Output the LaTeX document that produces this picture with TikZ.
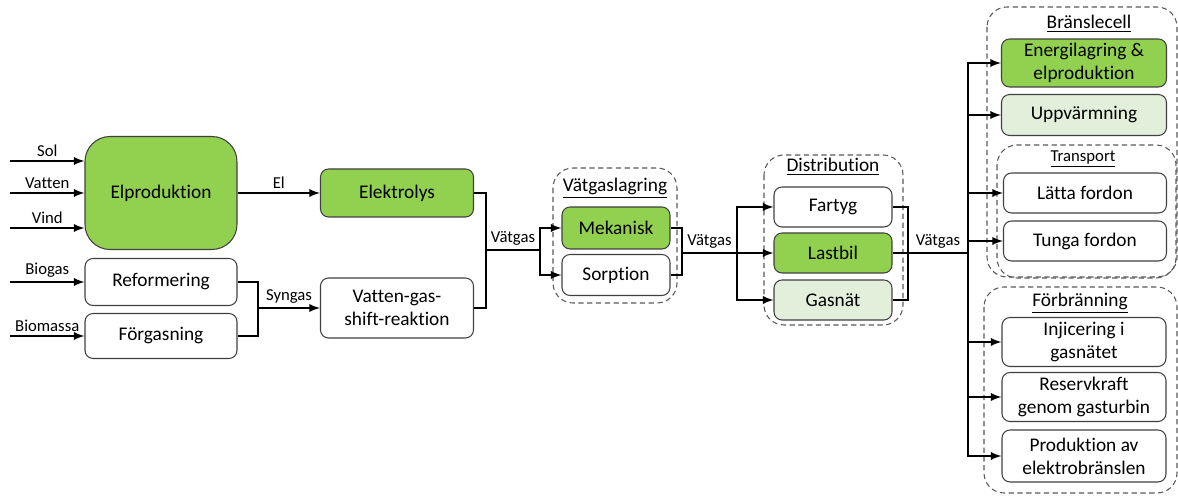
\documentclass[tikz,border=0pt]{standalone}
\usepackage{fontspec}
\setmainfont{Carlito}[Ligatures=NoCommon]
\definecolor{elgreen}{HTML}{92D050}
\definecolor{ltgreen}{HTML}{E2EFDA}
\begin{document}
\begin{tikzpicture}[x=0.02cm, y=-0.02cm,
    box/.style={draw=black!75, line width=0.6pt, rounded corners=0.16cm, align=center, inner sep=1pt, font=\fontsize{11}{13}\selectfont},
    grn/.style={box, fill=elgreen},
    lgrn/.style={box, fill=ltgreen},
    grp/.style={draw=black!65, line width=0.6pt, dash pattern=on 3pt off 2pt, rounded corners=0.4cm},
    conn/.style={line width=1.1pt},
    arr/.style={conn, ->, >=latex},
    lbl/.style={font=\fontsize{9.5}{11}\selectfont, above, inner sep=2pt},
    ttl/.style={font=\fontsize{11}{13}\selectfont},
]
\useasboundingbox (0,0) rectangle (1178,502);

% dashed groups
\draw[grp] (553,168) rectangle (677,303);
\draw[grp] (764,155) rectangle (903,325);
\draw[grp] (987,7) rectangle (1177,277);
\draw[grp] (997,145) rectangle (1176,278);
\draw[grp] (984,287) rectangle (1177,493);

\node[ttl] (lagring) at (615,188) {\underline{Vätgaslagring}};
\node[ttl] (distr) at (833,167) {\underline{Distribution}};
\node[ttl] (bransle) at (1089,24) {\underline{Bränslecell}};
\node[font=\fontsize{9.5}{11}\selectfont] (transp) at (1083,159) {\underline{Transport}};
\node[ttl] (forbr) at (1080,303) {\underline{Förbränning}};

% production
\node[grn, rounded corners=0.5cm, minimum width=3.04cm, minimum height=2.26cm] (elprod) at (161,193) {Elproduktion};
\node[box, minimum width=3.04cm, minimum height=0.94cm] (reform) at (161,282) {Reformering};
\node[box, minimum width=3.04cm, minimum height=0.9cm] (forgas) at (161,336) {Förgasning};
\node[grn, minimum width=3.06cm, minimum height=0.96cm] (elektro) at (397,193) {Elektrolys};
\node[box, minimum width=3.06cm, minimum height=1.2cm] (wgs) at (397,308) {Vatten-gas-\\shift-reaktion};

% storage and distribution
\node[grn, minimum width=2.16cm, minimum height=0.84cm] (mek) at (616,228) {Mekanisk};
\node[box, minimum width=2.16cm, minimum height=0.82cm] (sorp) at (616,275) {Sorption};
\node[box, minimum width=2.36cm, minimum height=0.8cm] (fartyg) at (833,207) {Fartyg};
\node[grn, minimum width=2.36cm, minimum height=0.8cm] (lastbil) at (833,253) {Lastbil};
\node[lgrn, minimum width=2.36cm, minimum height=0.8cm] (gasnat) at (833,300) {Gasnät};

% use
\node[grn, minimum width=3.3cm, minimum height=0.96cm] (energi) at (1084,63) {Energilagring \&\\elproduktion};
\node[lgrn, minimum width=3.3cm, minimum height=0.82cm] (uppv) at (1084,115) {Uppvärmning};
\node[box, minimum width=3.26cm, minimum height=0.8cm] (latta) at (1085,193) {Lätta fordon};
\node[box, minimum width=3.26cm, minimum height=0.8cm] (tunga) at (1085,241) {Tunga fordon};
\node[box, minimum width=3.28cm, minimum height=0.98cm] (inj) at (1084,342) {Injicering i\\gasnätet};
\node[box, minimum width=3.28cm, minimum height=0.98cm] (reserv) at (1084,397) {Reservkraft\\genom gasturbin};
\node[box, minimum width=3.28cm, minimum height=1.04cm] (prod) at (1084,456) {Produktion av\\elektrobränslen};

% inputs
\coordinate (sol) at (10,161);
\coordinate (vatten) at (10,193);
\coordinate (vind) at (10,228);
\coordinate (biogas) at (10,282);
\coordinate (biomassa) at (10,336);
\draw[arr] (sol) -- node[lbl] {Sol} (sol -| elprod.west);
\draw[arr] (vatten) -- node[lbl] {Vatten} (vatten -| elprod.west);
\draw[arr] (vind) -- node[lbl] {Vind} (vind -| elprod.west);
\draw[arr] (biogas) -- node[lbl] {Biogas} (reform.west);
\draw[arr] (biomassa) -- node[lbl] {Biomassa} (forgas.west);

\draw[arr] (elprod.east) -- node[lbl] {El} (elektro.west);

% syngas
\coordinate (sj) at (258,308);
\draw[conn] (reform.east) -| (sj);
\draw[conn] (forgas.east) -| (sj);
\draw[arr] (sj) -- node[lbl] {Syngas} (wgs.west);

% vatgas to storage
\coordinate (vj1) at (486,250);
\coordinate (vs1) at (540,250);
\draw[conn] (elektro.east) -| (vj1);
\draw[conn] (wgs.east) -| (vj1);
\draw[conn] (vj1) -- node[lbl] {Vätgas} (vs1);
\draw[arr] (vs1) |- (mek.west);
\draw[arr] (vs1) |- (sorp.west);

% vatgas to distribution
\coordinate (vj2) at (682,253);
\coordinate (vs2) at (737,253);
\draw[conn] (mek.east) -| (vj2);
\draw[conn] (sorp.east) -| (vj2);
\draw[conn] (vj2) -- node[lbl] {Vätgas} (vs2);
\draw[arr] (vs2) -- (lastbil.west);
\draw[arr] (vs2) |- (fartyg.west);
\draw[arr] (vs2) |- (gasnat.west);

% vatgas to use
\coordinate (vj3) at (908,253);
\coordinate (vs3) at (968,253);
\draw[conn] (fartyg.east) -| (vj3);
\draw[conn] (gasnat.east) -| (vj3);
\draw[conn] (lastbil.east) -- (vj3) -- node[lbl] {Vätgas} (vs3);
\foreach \n in {energi,uppv,latta,tunga,inj,reserv,prod}
  \draw[arr] (vs3) |- (\n.west);

\end{tikzpicture}
\end{document}
